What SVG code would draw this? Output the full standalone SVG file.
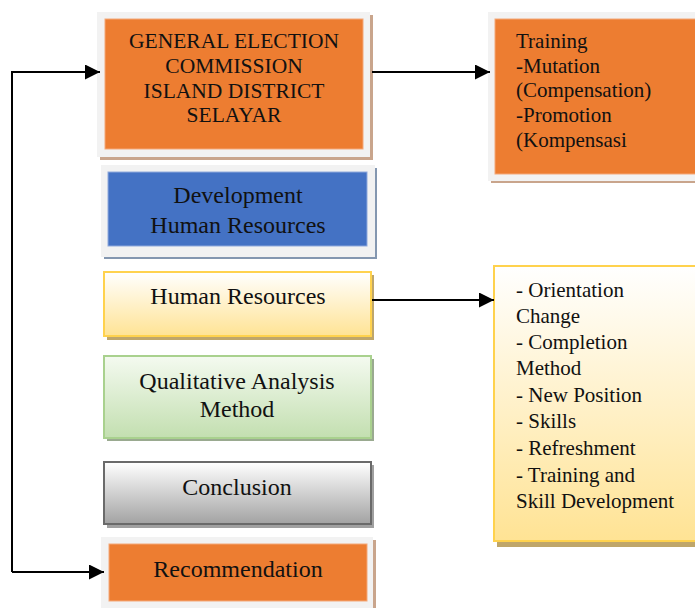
<svg xmlns="http://www.w3.org/2000/svg" width="695" height="608" viewBox="0 0 695 608">
  <defs>
    <linearGradient id="gYellow" x1="0" y1="0" x2="0" y2="1">
      <stop offset="0" stop-color="#ffffff"/>
      <stop offset="1" stop-color="#ffe394"/>
    </linearGradient>
    <linearGradient id="gGreen" x1="0" y1="0" x2="0" y2="1">
      <stop offset="0" stop-color="#f4faf0"/>
      <stop offset="1" stop-color="#c3dfb0"/>
    </linearGradient>
    <linearGradient id="gGray" x1="0" y1="0" x2="0" y2="1">
      <stop offset="0" stop-color="#ffffff"/>
      <stop offset="1" stop-color="#a2a2a2"/>
    </linearGradient>
    <marker id="arrow" viewBox="0 0 15 15" refX="15" refY="7.5" markerWidth="15" markerHeight="15" markerUnits="userSpaceOnUse" orient="auto">
      <path d="M0,0 L15,7.5 L0,15 Z" fill="#000"/>
    </marker>
  </defs>
  <style>
    text { font-family: "Liberation Serif", "Times New Roman", serif; fill: #111; }
    .c { text-anchor: middle; }
    .t1 { font-size: 21.5px; }
    .t2 { font-size: 21px; }
    .t3 { font-size: 24px; }
    .frame { fill: #f2f2f2; }
    .orange { fill: #ed7d31; stroke: #f4a878; stroke-width: 1; }
    .conn { fill: none; stroke: #000; stroke-width: 2; }
  </style>

  <rect width="695" height="608" fill="#ffffff"/>

  <!-- General Election Commission -->
  <g id="kpu">
    <rect x="100" y="15" width="273" height="145" fill="#c9a58c"/>
    <rect class="frame" x="97" y="12" width="273" height="145"/>
    <rect class="orange" x="105" y="19" width="258" height="130"/>
    <text class="c t1" x="234" y="48">GENERAL ELECTION</text>
    <text class="c t1" x="234" y="73">COMMISSION</text>
    <text class="c t1" x="234" y="98">ISLAND DISTRICT</text>
    <text class="c t1" x="234" y="122">SELAYAR</text>
  </g>

  <!-- Training / mutation / promotion -->
  <g id="training">
    <rect x="491" y="15" width="210" height="168" fill="#c9a58c"/>
    <rect class="frame" x="488" y="12" width="210" height="169"/>
    <rect class="orange" x="495" y="19" width="205" height="155"/>
    <text class="t2" x="516" y="48">Training</text>
    <text class="t2" x="516" y="73">-Mutation</text>
    <text class="t2" x="516" y="97">(Compensation)</text>
    <text class="t2" x="516" y="122">-Promotion</text>
    <text class="t2" x="516" y="147">(Kompensasi</text>
  </g>

  <!-- Human resource development -->
  <g id="development">
    <rect x="104" y="168" width="273" height="91" fill="#8497b0"/>
    <rect class="frame" x="101" y="165" width="274" height="92"/>
    <rect x="108" y="172" width="259" height="74" fill="#4472c4" stroke="#8fa9dc" stroke-width="1"/>
    <text class="c t3" x="238" y="203">Development</text>
    <text class="c t3" x="238" y="233">Human Resources</text>
  </g>

  <!-- Human resources -->
  <g id="human-resources">
    <rect x="107" y="275" width="267" height="65" fill="#bfa66a"/>
    <rect x="104" y="272" width="267" height="64" fill="url(#gYellow)" stroke="#ffd24d" stroke-width="2"/>
    <text class="c t3" x="238" y="304">Human Resources</text>
  </g>

  <!-- Human resources aspects -->
  <g id="aspects">
    <rect x="497" y="269" width="205" height="278" fill="#bfa66a"/>
    <rect x="494" y="266" width="205" height="275" fill="url(#gYellow)" stroke="#ffd24d" stroke-width="2"/>
    <text class="t2" x="516" y="297">- Orientation</text>
    <text class="t2" x="516" y="323">Change</text>
    <text class="t2" x="516" y="349">- Completion</text>
    <text class="t2" x="516" y="375">Method</text>
    <text class="t2" x="516" y="402">- New Position</text>
    <text class="t2" x="516" y="428">- Skills</text>
    <text class="t2" x="516" y="455">- Refreshment</text>
    <text class="t2" x="516" y="482">- Training and</text>
    <text class="t2" x="516" y="508">Skill Development</text>
  </g>

  <!-- Qualitative analysis method -->
  <g id="method">
    <rect x="107" y="359" width="267" height="82" fill="#9aaa90"/>
    <rect x="104" y="356" width="267" height="82" fill="url(#gGreen)" stroke="#a9d18e" stroke-width="2"/>
    <text class="c t3" x="237" y="389">Qualitative Analysis</text>
    <text class="c t3" x="237" y="417">Method</text>
  </g>

  <!-- Conclusion -->
  <g id="conclusion">
    <rect x="107" y="465" width="267" height="63" fill="#a0a0a0"/>
    <rect x="104" y="462" width="267" height="62" fill="url(#gGray)" stroke="#6a6a6a" stroke-width="2"/>
    <text class="c t3" x="237" y="495">Conclusion</text>
  </g>

  <!-- Recommendation -->
  <g id="recommendation">
    <rect x="104" y="540" width="272" height="70" fill="#c9a58c"/>
    <rect class="frame" x="101" y="537" width="272" height="71"/>
    <rect class="orange" x="109" y="544" width="258" height="57"/>
    <text class="c t3" x="238" y="577">Recommendation</text>
  </g>

  <!-- Connectors -->
  <g id="connectors">
    <path class="conn" d="M372,72 L490,72" marker-end="url(#arrow)"/>
    <path class="conn" d="M372,300 L494,300" marker-end="url(#arrow)"/>
    <path class="conn" d="M12,572 L12,72 L100,72" marker-end="url(#arrow)"/>
    <path class="conn" d="M12,572 L104,572" marker-end="url(#arrow)"/>
  </g>
</svg>
